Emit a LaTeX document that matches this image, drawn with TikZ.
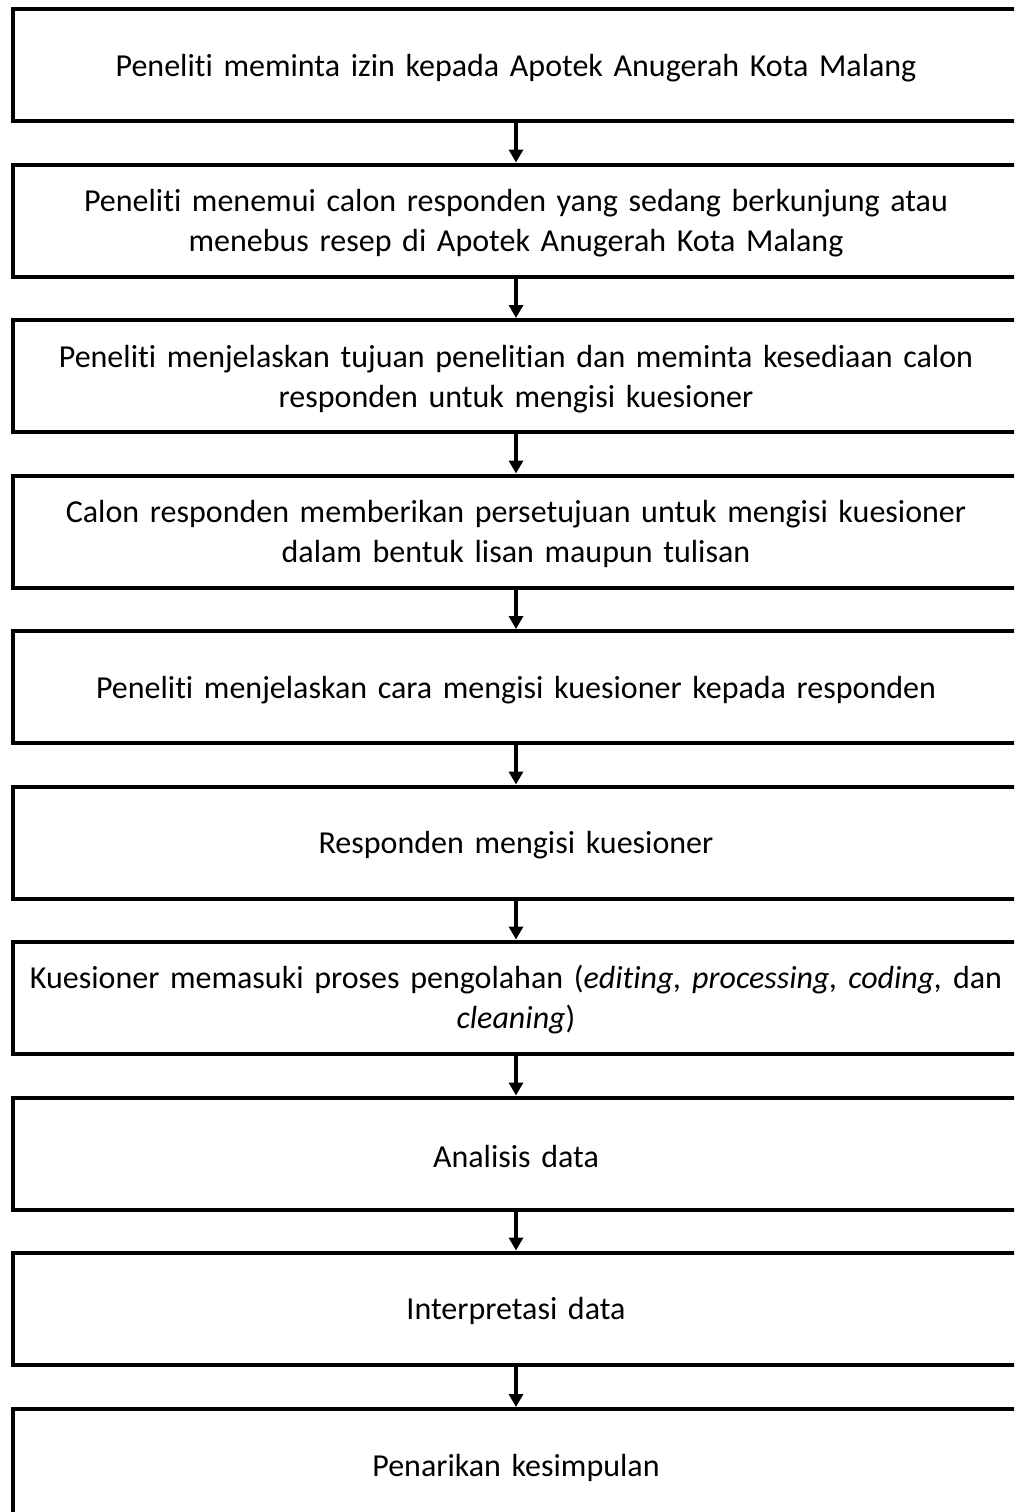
\documentclass[tikz,border=0pt]{standalone}
\usepackage{fontspec}
\setmainfont[Ligatures={NoCommon}]{Carlito}
\usetikzlibrary{arrows.meta}
\begin{document}
\begin{tikzpicture}[x=0.5pt,y=-0.5pt,
  stepbox/.style={draw=black,line width=2pt,minimum width=503pt,minimum height=56pt,
    inner sep=0pt,align=center,text width=500pt,font=\fontsize{16}{20}\selectfont,
    execute at begin node={\rule{0pt}{14pt}}},
  arr/.style={line width=2pt,-{Triangle[width=7pt,length=6.5pt]}}]
\useasboundingbox (0,0) rectangle (1014,1512);
\clip (0,0) rectangle (1014,1512);
\node[stepbox] (b1) at (516,65) {Peneliti meminta izin kepada Apotek Anugerah Kota Malang};
\node[stepbox] (b2) at (516,220.5) {Peneliti menemui calon responden yang sedang berkunjung atau\\menebus resep di Apotek Anugerah Kota Malang};
\node[stepbox] (b3) at (516,376) {Peneliti menjelaskan tujuan penelitian dan meminta kesediaan calon\\responden untuk mengisi kuesioner};
\node[stepbox] (b4) at (516,531.5) {Calon responden memberikan persetujuan untuk mengisi kuesioner\\dalam bentuk lisan maupun tulisan};
\node[stepbox] (b5) at (516,687) {Peneliti menjelaskan cara mengisi kuesioner kepada responden};
\node[stepbox] (b6) at (516,842.5) {Responden mengisi kuesioner};
\node[stepbox] (b7) at (516,997.5) {Kuesioner memasuki proses pengolahan (\textit{editing, processing, coding,} dan\\\textit{cleaning})};
\node[stepbox] (b8) at (516,1153.5) {Analisis data};
\node[stepbox] (b9) at (516,1308.5) {Interpretasi data};
\node[stepbox] (b10) at (516,1465) {Penarikan kesimpulan};
\foreach \a/\b in {b1/b2,b2/b3,b3/b4,b4/b5,b5/b6,b6/b7,b7/b8,b8/b9,b9/b10}
  \draw[arr] (\a.south) -- (\b.north);
\end{tikzpicture}
\end{document}
